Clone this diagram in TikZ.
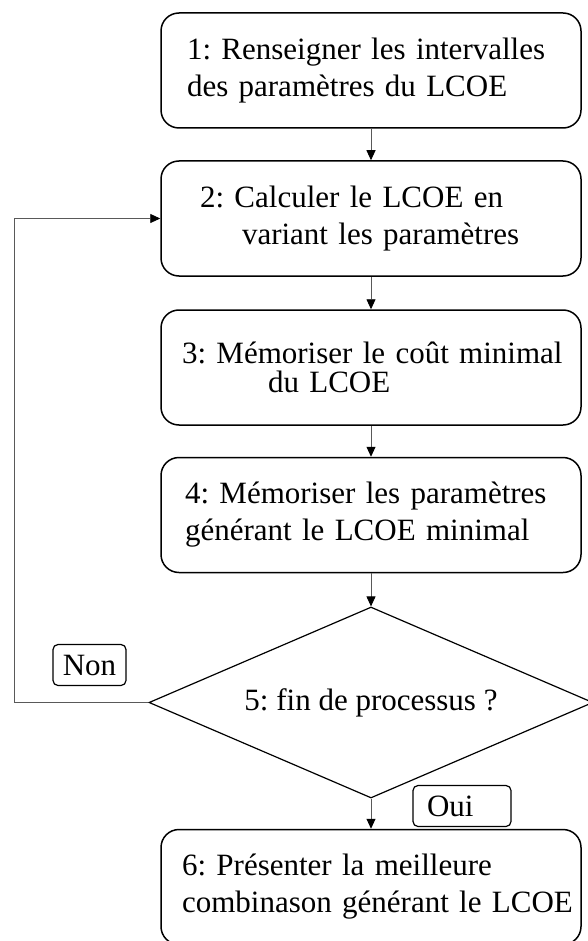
\documentclass[tikz,border=0pt]{standalone}
\usepackage{fontspec}
\setmainfont{Liberation Serif}
\usetikzlibrary{positioning,arrows.meta,shapes.geometric}
\frenchspacing

\begin{document}
\begin{tikzpicture}[x=1pt,y=1pt,
    every node/.style={font=\fontsize{31}{37}\selectfont},
    box/.style={draw, line width=1.5pt, rounded corners=18pt, inner sep=0pt,
      minimum width=420pt, minimum height=115pt, text width=410pt, align=left},
    dec/.style={draw, diamond, line width=1.2pt, aspect=2.3, inner sep=0pt,
      minimum width=444pt, minimum height=191pt},
    tag/.style={draw, line width=1.2pt, rounded corners=5pt, inner sep=0pt,
      minimum height=41pt},
    arr/.style={-{Triangle[length=10pt,width=9pt,color=black]},
      draw=black!65, line width=0.9pt},
  ]

  \useasboundingbox (0,0) rectangle (587,-941);

  \def\cx{371}

  % ── Etapes (colonne centrale) ────────────────────────
  \node[box] (B1) at (\cx,-70.5)
    {\hspace*{21pt}1: Renseigner les intervalles\\
     \hspace*{21pt}des paramètres du LCOE};
  \node[box] (B2) at (\cx,-218.5)
    {\hspace*{34pt}2: Calculer le LCOE en\\
     \hspace*{76pt}variant les paramètres};
  \node[box] (B3) at (\cx,-367.5)
    {\hspace*{16pt}3: Mémoriser le coût minimal\\[-8pt]
     \hspace*{102pt}du LCOE};
  \node[box] (B4) at (\cx,-515)
    {\hspace*{19pt}4: Mémoriser les paramètres\\
     \hspace*{19pt}générant le LCOE minimal};
  \node[dec] (D5) at (\cx,-702.5) {5: fin de processus ?};
  \node[box] (B6) at (\cx,-887)
    {\hspace*{16pt}6: Présenter la meilleure\\
     \hspace*{16pt}combinason générant le LCOE};

  % ── Etiquettes ───────────────────────────────────────
  \node[tag, minimum width=73pt] (non) at (89.5,-665) {Non};
  \node[tag, text width=70pt, align=left, inner xsep=14pt] (oui)
    at (462,-806) {Oui};

  % ── Liaisons ─────────────────────────────────────────
  \coordinate (retour) at (14,0);
  \draw[arr] (B1) -- (B2);
  \draw[arr] (B2) -- (B3);
  \draw[arr] (B3) -- (B4);
  \draw[arr] (B4) -- (D5);
  \draw[arr] (D5) -- (B6);
  \draw[arr] (D5.west) -- (D5.west -| retour) |- (B2.west);

\end{tikzpicture}
\end{document}
